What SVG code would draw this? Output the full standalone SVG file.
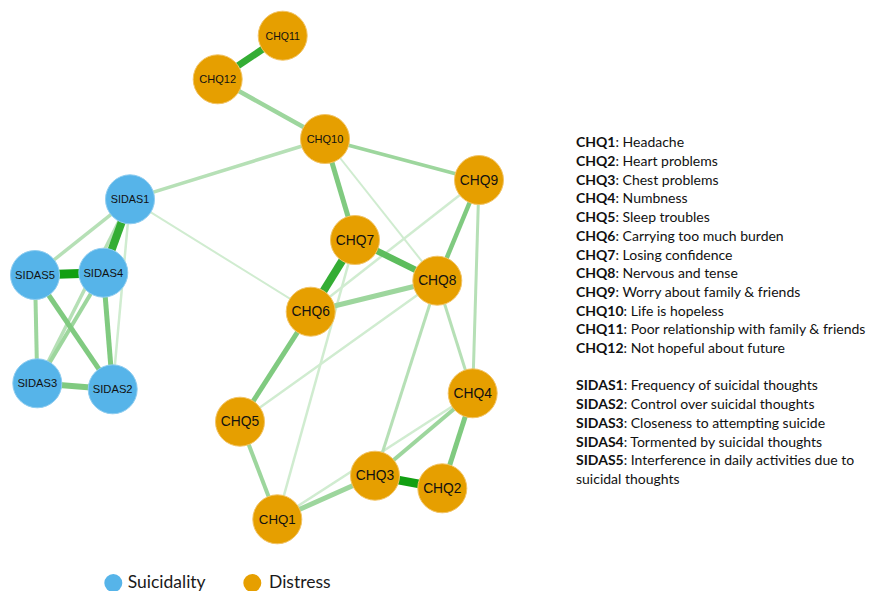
<svg xmlns="http://www.w3.org/2000/svg" width="872" height="591" viewBox="0 0 872 591">
<style>
.e{fill:none;stroke-linecap:butt}
.c0{stroke:#129f12}
.c1{stroke:#34ad34}
.c2{stroke:#5dbd5d}
.c3{stroke:#80ca80}
.c4{stroke:#9dd69d}
.c5{stroke:#b6e0b6}
.c6{stroke:#d0ecd0}
.d circle{fill:#E69F00;stroke:#f2c466;stroke-width:1}
.s circle{fill:#56B4E9;stroke:#8fcdf0;stroke-width:1}
.n text{font-family:"Liberation Sans",Arial,sans-serif;fill:#111;text-anchor:middle;dominant-baseline:central}
.lg{font-family:Lato,"Open Sans",sans-serif;font-size:14px;fill:#111}
.lg tspan.b{font-weight:bold}
.leg{font-family:Lato,"Open Sans",sans-serif;font-size:17.5px;fill:#1a1a1a}
</style>
<rect width="872" height="591" fill="#fff"/>
<g id="edges">
<line class="e c6" stroke-width="2" x1="325" y1="139" x2="437.3" y2="280.7"/>
<line class="e c6" stroke-width="2.5" x1="479" y1="180" x2="310.7" y2="311.7"/>
<line class="e c6" stroke-width="2.5" x1="355" y1="240" x2="277.3" y2="519.3"/>
<line class="e c6" stroke-width="2.5" x1="437.3" y1="280.7" x2="240" y2="421.7"/>
<line class="e c6" stroke-width="2.5" x1="472.7" y1="393.3" x2="277.3" y2="519.3"/>
<line class="e c6" stroke-width="2" x1="130" y1="199.3" x2="310.7" y2="311.7"/>
<line class="e c6" stroke-width="2.5" x1="130" y1="199.3" x2="112.7" y2="389.3"/>
<line class="e c5" stroke-width="3.5" x1="325" y1="139" x2="130" y2="199.3"/>
<line class="e c5" stroke-width="3.5" x1="130" y1="199.3" x2="35" y2="275"/>
<line class="e c5" stroke-width="3" x1="437.3" y1="280.7" x2="375" y2="475.7"/>
<line class="e c5" stroke-width="3" x1="437.3" y1="280.7" x2="472.7" y2="393.3"/>
<line class="e c5" stroke-width="3" x1="479" y1="180" x2="472.7" y2="393.3"/>
<line class="e c5" stroke-width="3.5" x1="130" y1="199.3" x2="37.3" y2="383.3"/>
<line class="e c4" stroke-width="4.5" x1="217.7" y1="79.3" x2="325" y2="139"/>
<line class="e c4" stroke-width="5" x1="437.3" y1="280.7" x2="310.7" y2="311.7"/>
<line class="e c4" stroke-width="5" x1="277.3" y1="519.3" x2="375" y2="475.7"/>
<line class="e c4" stroke-width="4" x1="240" y1="421.7" x2="277.3" y2="519.3"/>
<line class="e c4" stroke-width="3.5" x1="325" y1="139" x2="479" y2="180"/>
<line class="e c4" stroke-width="4" x1="35" y1="275" x2="37.3" y2="383.3"/>
<line class="e c4" stroke-width="4" x1="103.3" y1="272.7" x2="37.3" y2="383.3"/>
<line class="e c4" stroke-width="4" x1="472.7" y1="393.3" x2="375" y2="475.7"/>
<line class="e c3" stroke-width="5" x1="325" y1="139" x2="355" y2="240"/>
<line class="e c3" stroke-width="5" x1="310.7" y1="311.7" x2="240" y2="421.7"/>
<line class="e c3" stroke-width="5" x1="472.7" y1="393.3" x2="442.3" y2="488.3"/>
<line class="e c3" stroke-width="6" x1="37.3" y1="383.3" x2="112.7" y2="389.3"/>
<line class="e c3" stroke-width="5" x1="35" y1="275" x2="112.7" y2="389.3"/>
<line class="e c3" stroke-width="5" x1="103.3" y1="272.7" x2="112.7" y2="389.3"/>
<line class="e c3" stroke-width="4.5" x1="479" y1="180" x2="437.3" y2="280.7"/>
<line class="e c2" stroke-width="6.5" x1="355" y1="240" x2="437.3" y2="280.7"/>
<line class="e c1" stroke-width="8" x1="355" y1="240" x2="310.7" y2="311.7"/>
<line class="e c1" stroke-width="8" x1="130" y1="199.3" x2="103.3" y2="272.7"/>
<line class="e c1" stroke-width="7" x1="282.7" y1="35.7" x2="217.7" y2="79.3"/>
<line class="e c0" stroke-width="8.5" x1="375" y1="475.7" x2="442.3" y2="488.3"/>
<line class="e c0" stroke-width="9" x1="35" y1="275" x2="103.3" y2="272.7"/>
</g>
<g class="n d">
<g id="CHQ11"><circle cx="282.7" cy="35.7" r="24.5"/><text x="282.7" y="35.7" font-size="10.5">CHQ11</text></g>
<g id="CHQ12"><circle cx="217.7" cy="79.3" r="24.5"/><text x="217.7" y="79.3" font-size="11">CHQ12</text></g>
<g id="CHQ10"><circle cx="325" cy="139" r="24.5"/><text x="325" y="139" font-size="11">CHQ10</text></g>
<g id="CHQ9"><circle cx="479" cy="180" r="24.5"/><text x="479" y="180" font-size="13.8">CHQ9</text></g>
<g id="CHQ7"><circle cx="355" cy="240" r="24.5"/><text x="355" y="240" font-size="13.8">CHQ7</text></g>
<g id="CHQ8"><circle cx="437.3" cy="280.7" r="24.5"/><text x="437.3" y="280.7" font-size="13.8">CHQ8</text></g>
<g id="CHQ6"><circle cx="310.7" cy="311.7" r="24.5"/><text x="310.7" y="311.7" font-size="13.8">CHQ6</text></g>
<g id="CHQ5"><circle cx="240" cy="421.7" r="24.5"/><text x="240" y="421.7" font-size="13.8">CHQ5</text></g>
<g id="CHQ4"><circle cx="472.7" cy="393.3" r="24.5"/><text x="472.7" y="393.3" font-size="13.8">CHQ4</text></g>
<g id="CHQ3"><circle cx="375" cy="475.7" r="24.5"/><text x="375" y="475.7" font-size="13.8">CHQ3</text></g>
<g id="CHQ2"><circle cx="442.3" cy="488.3" r="24.5"/><text x="442.3" y="488.3" font-size="13.8">CHQ2</text></g>
<g id="CHQ1"><circle cx="277.3" cy="519.3" r="24.5"/><text x="277.3" y="519.3" font-size="13.3">CHQ1</text></g>
</g>
<g class="n s">
<g id="SIDAS1"><circle cx="130" cy="199.3" r="24.5"/><text x="130" y="199.3" font-size="10.8">SIDAS1</text></g>
<g id="SIDAS5"><circle cx="35" cy="275" r="24.5"/><text x="35" y="275" font-size="11.2">SIDAS5</text></g>
<g id="SIDAS4"><circle cx="103.3" cy="272.7" r="24.5"/><text x="103.3" y="272.7" font-size="11.2">SIDAS4</text></g>
<g id="SIDAS3"><circle cx="37.3" cy="383.3" r="24.5"/><text x="37.3" y="383.3" font-size="11.2">SIDAS3</text></g>
<g id="SIDAS2"><circle cx="112.7" cy="389.3" r="24.5"/><text x="112.7" y="389.3" font-size="11.2">SIDAS2</text></g>
</g>
<g id="key">
<text class="lg" x="576" y="147.3"><tspan class="b">CHQ1</tspan>: Headache</text>
<text class="lg" x="576" y="166"><tspan class="b">CHQ2</tspan>: Heart problems</text>
<text class="lg" x="576" y="184.7"><tspan class="b">CHQ3</tspan>: Chest problems</text>
<text class="lg" x="576" y="203.4"><tspan class="b">CHQ4</tspan>: Numbness</text>
<text class="lg" x="576" y="222.1"><tspan class="b">CHQ5</tspan>: Sleep troubles</text>
<text class="lg" x="576" y="240.8"><tspan class="b">CHQ6</tspan>: Carrying too much burden</text>
<text class="lg" x="576" y="259.5"><tspan class="b">CHQ7</tspan>: Losing confidence</text>
<text class="lg" x="576" y="278.2"><tspan class="b">CHQ8</tspan>: Nervous and tense</text>
<text class="lg" x="576" y="296.9"><tspan class="b">CHQ9</tspan>: Worry about family &amp; friends</text>
<text class="lg" x="576" y="315.6"><tspan class="b">CHQ10</tspan>: Life is hopeless</text>
<text class="lg" x="576" y="334.3"><tspan class="b">CHQ11</tspan>: Poor relationship with family &amp; friends</text>
<text class="lg" x="576" y="353"><tspan class="b">CHQ12</tspan>: Not hopeful about future</text>
<text class="lg" x="576" y="390.4"><tspan class="b">SIDAS1</tspan>: Frequency of suicidal thoughts</text>
<text class="lg" x="576" y="409.1"><tspan class="b">SIDAS2</tspan>: Control over suicidal thoughts</text>
<text class="lg" x="576" y="427.8"><tspan class="b">SIDAS3</tspan>: Closeness to attempting suicide</text>
<text class="lg" x="576" y="446.5"><tspan class="b">SIDAS4</tspan>: Tormented by suicidal thoughts</text>
<text class="lg" x="576" y="465.2"><tspan class="b">SIDAS5</tspan>: Interference in daily activities due to</text>
<text class="lg" x="576" y="483.9">suicidal thoughts</text>
</g>
<g id="legend">
<circle cx="113.3" cy="583" r="9" fill="#56B4E9"/>
<text class="leg" x="127.7" y="587.5">Suicidality</text>
<circle cx="252.3" cy="583" r="9" fill="#E69F00"/>
<text class="leg" x="269" y="587.5">Distress</text>
</g>
</svg>
